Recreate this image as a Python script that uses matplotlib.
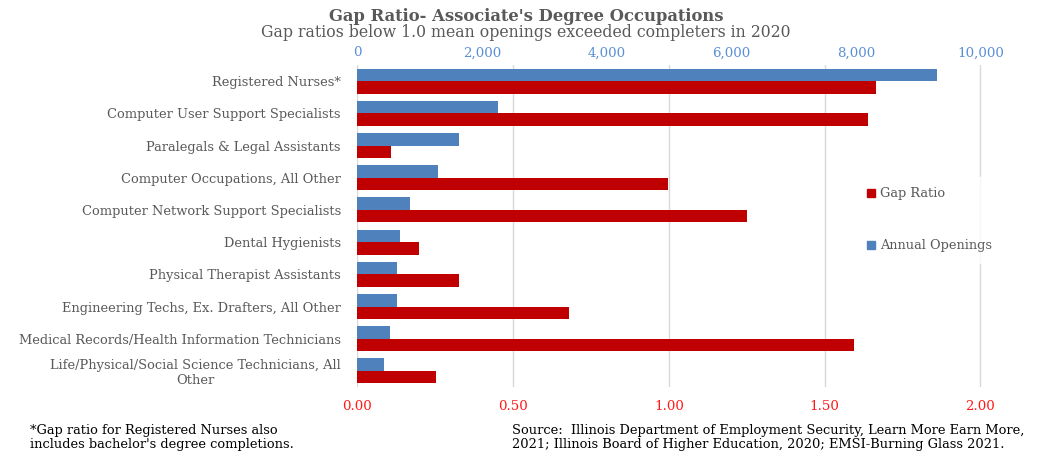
import matplotlib.pyplot as plt
from matplotlib.patches import Patch
import numpy as np

occupations = ['Registered Nurses*',
               'Computer User Support Specialists',
               'Paralegals & Legal Assistants',
               'Computer Occupations, All Other',
               'Computer Network Support Specialists',
               'Dental Hygienists',
               'Physical Therapist Assistants',
               'Engineering Techs, Ex. Drafters, All Other',
               'Medical Records/Health Information Technicians',
               'Life/Physical/Social Science Technicians, All\nOther']
annual_openings = [9300, 2250, 1630, 1290, 850, 680, 640, 640, 525, 425]
gap_ratio = [1.665, 1.638, 0.107, 0.997, 1.252, 0.198, 0.325, 0.680, 1.593, 0.252]

blue = '#4f81bd'
red = '#c00000'
grey = '#595959'
font = 'DejaVu Serif'

plt.rcParams['font.family'] = font

fig = plt.figure(figsize=(10.37, 4.58), dpi=100)
ax = fig.add_axes([0.3447, 0.155, 0.602, 0.703])
ax2 = ax.twiny()

y = np.arange(len(occupations))
h = 0.39

ax.barh(y + h / 2, gap_ratio, height=h, color=red, zorder=2)
ax2.barh(y - h / 2, annual_openings, height=h, color=blue, zorder=2)

ax.set_xlim(0, 2.004)
ax2.set_xlim(0, 10020)
ax.set_ylim(len(occupations) - 0.5, -0.5)
ax2.set_ylim(len(occupations) - 0.5, -0.5)

ax.set_xticks([0, 0.5, 1.0, 1.5, 2.0])
ax.set_xticklabels(['%.2f' % v for v in [0, 0.5, 1.0, 1.5, 2.0]])
ax2.set_xticks([0, 2000, 4000, 6000, 8000, 10000])
ax2.set_xticklabels(['{:,}'.format(v) for v in [0, 2000, 4000, 6000, 8000, 10000]])

ax.tick_params(axis='x', colors='#ff1a1a', labelsize=9.6, length=0, pad=9)
ax2.tick_params(axis='x', colors='#5b8fd6', labelsize=9.6, length=0, pad=4)
ax.set_yticks(y)
ax.set_yticklabels(occupations)
ax.tick_params(axis='y', colors=grey, labelsize=9.35, length=0, pad=12)
for lab in ax.get_yticklabels():
    lab.set_multialignment('center')
ax2.tick_params(axis='y', length=0)

ax.grid(axis='x', color='#d9d9d9', linewidth=1, zorder=0)
ax.set_axisbelow(True)
for a in (ax, ax2):
    for s in a.spines.values():
        s.set_visible(False)

handles = [Patch(color=red, label='Gap Ratio'), Patch(color=blue, label='Annual Openings')]
leg = fig.legend(handles=handles, loc='center left', bbox_to_anchor=(0.82, 0.52),
                 frameon=True, fontsize=9.3, labelspacing=3.0, handlelength=0.6,
                 handleheight=0.6, handletextpad=0.4, borderpad=0.8)
leg.get_frame().set_facecolor('white')
leg.get_frame().set_edgecolor('white')
leg.set_zorder(5)
for t in leg.get_texts():
    t.set_color(grey)

fig.text(0.507, 0.965, "Gap Ratio- Associate's Degree Occupations", ha='center', va='center',
         fontsize=11.8, fontweight='bold', color=grey)
fig.text(0.507, 0.928, 'Gap ratios below 1.0 mean openings exceeded completers in 2020',
         ha='center', va='center', fontsize=11.3, color=grey)

fig.text(0.029, 0.045, "*Gap ratio for Registered Nurses also\nincludes bachelor's degree completions.",
         ha='left', va='center', fontsize=9.4, color='black', linespacing=1.05)
fig.text(0.494, 0.045, 'Source:  Illinois Department of Employment Security, Learn More Earn More,\n'
         '2021; Illinois Board of Higher Education, 2020; EMSI-Burning Glass 2021.',
         ha='left', va='center', fontsize=9.4, color='black', linespacing=1.05)

fig.savefig('out.png', dpi=100)
